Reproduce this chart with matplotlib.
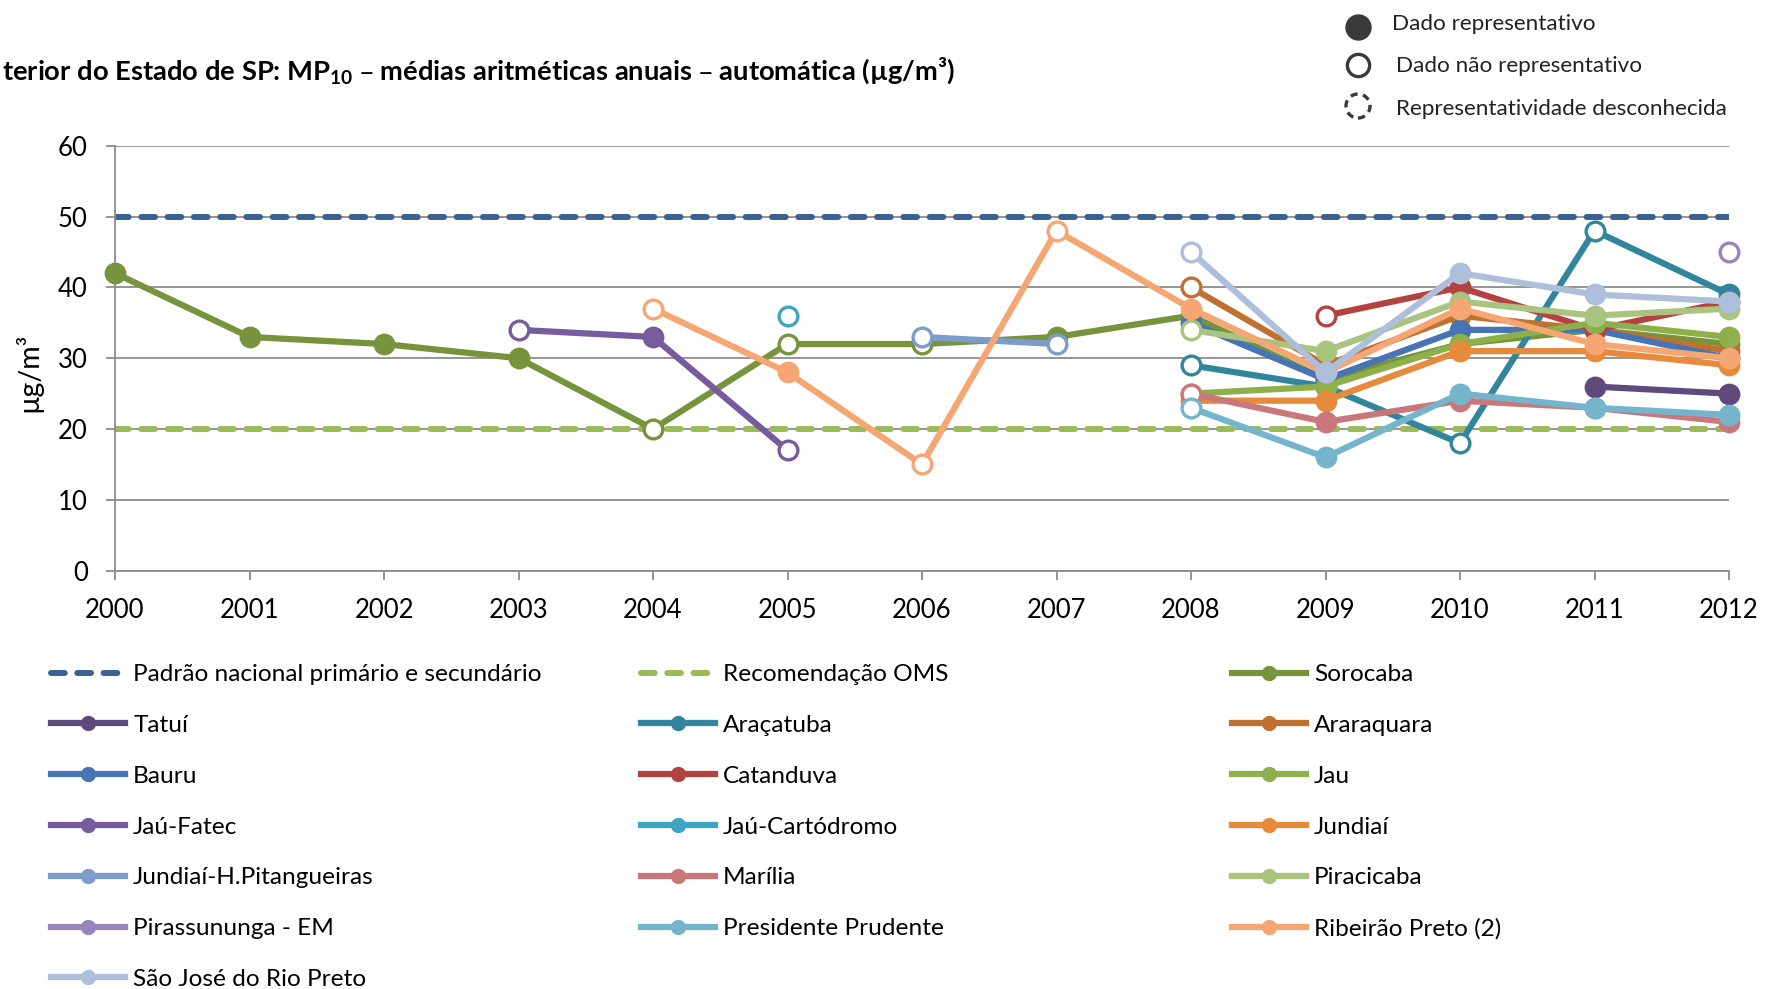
import numpy as np
import matplotlib
matplotlib.use("Agg")
import matplotlib.pyplot as plt
from matplotlib.lines import Line2D
from matplotlib.patches import Ellipse

plt.rcParams["font.family"] = ["Lato", "DejaVu Sans"]

nan = np.nan
years = list(range(2000, 2013))

# valores anuais (µg/m³), nan = sem dado
padrao = [50] * 13
oms = [20] * 13
sorocaba = [42, 33, 32, 30, 20, 32, 32, 33, 36, 27, 32, 34, 32]
tatui = [nan] * 11 + [26, 25]
aracatuba = [nan] * 8 + [29, 26, 18, 48, 39]
araraquara = [nan] * 8 + [40, 29, 36, 34, 31]
bauru = [nan] * 8 + [35, 27, 34, 34, 30]
catanduva = [nan] * 9 + [36, 40, 34, 38]
jau = [nan] * 8 + [25, 26, 32, 35, 33]
jau_fatec = [nan] * 3 + [34, 33, 17] + [nan] * 7
jau_cartodromo = [nan] * 5 + [36] + [nan] * 7
jundiai = [nan] * 8 + [24, 24, 31, 31, 29]
jundiai_hp = [nan] * 6 + [33, 32] + [nan] * 5
marilia = [nan] * 8 + [25, 21, 24, 23, 21]
piracicaba = [nan] * 8 + [34, 31, 38, 36, 37]
pirassununga = [nan] * 12 + [45]
pres_prudente = [nan] * 8 + [23, 16, 25, 23, 22]
ribeirao = [nan] * 4 + [37, 28, 15, 48, 37, 28, 37, 32, 30]
sao_jose = [nan] * 8 + [45, 28, 42, 39, 38]

# anos com dado não representativo (marcador vazado)
hollow = {
    "Sorocaba": [2004, 2005, 2006],
    "Araçatuba": [2008, 2010, 2011],
    "Araraquara": [2008],
    "Catanduva": [2009],
    "Jaú-Fatec": [2003, 2005],
    "Jaú-Cartódromo": [2005],
    "Jundiaí-H.Pitangueiras": [2006, 2007],
    "Marília": [2008],
    "Piracicaba": [2008],
    "Pirassununga - EM": [2012],
    "Presidente Prudente": [2008],
    "Ribeirão Preto (2)": [2004, 2006, 2007],
    "São José do Rio Preto": [2008],
}

series = [
    ("Sorocaba", sorocaba, "#77933C"),
    ("Tatuí", tatui, "#604A7B"),
    ("Araçatuba", aracatuba, "#31859C"),
    ("Araraquara", araraquara, "#C0712F"),
    ("Bauru", bauru, "#4674B5"),
    ("Catanduva", catanduva, "#B4433F"),
    ("Jau", jau, "#8DB04B"),
    ("Jaú-Fatec", jau_fatec, "#765C9E"),
    ("Jaú-Cartódromo", jau_cartodromo, "#3DA5C2"),
    ("Jundiaí", jundiai, "#E78A3C"),
    ("Jundiaí-H.Pitangueiras", jundiai_hp, "#7C9CCC"),
    ("Marília", marilia, "#C9777A"),
    ("Piracicaba", piracicaba, "#A9C47F"),
    ("Pirassununga - EM", pirassununga, "#9985BA"),
    ("Presidente Prudente", pres_prudente, "#74B5CC"),
    ("Ribeirão Preto (2)", ribeirao, "#F5A672"),
    ("São José do Rio Preto", sao_jose, "#AEBFDB"),
]

W, H = 1785, 989
fig = plt.figure(figsize=(W / 100, H / 100), dpi=100)
ax = fig.add_axes([115 / W, 1 - 570.7 / H, (1729 - 115) / W, (570.7 - 145.7) / H])

grid_c = "#8c8c8c"
ax.set_xlim(2000, 2012)
ax.set_ylim(0, 60)
ax.set_yticks(range(0, 61, 10))
ax.set_xticks(years)
ax.yaxis.grid(True, color=grid_c, lw=1.3)
ax.set_axisbelow(True)
for s in ["top", "right"]:
    ax.spines[s].set_visible(False)
for s in ["left", "bottom"]:
    ax.spines[s].set_color(grid_c)
    ax.spines[s].set_linewidth(1.3)
ax.tick_params(axis="both", direction="out", length=6.5, width=1.3, color=grid_c,
               labelsize=18.5, pad=13)

dash = (0, (2.3, 2.1))
ax.plot(years, padrao, color="#3A6194", lw=4.3, ls=dash, dash_capstyle="round", zorder=2)
ax.plot(years, oms, color="#9BBB59", lw=4.3, ls=dash, dash_capstyle="round", zorder=2)

yrs = np.array(years)
for i, (name, vals, color) in enumerate(series):
    y = np.array(vals, dtype=float)
    z = 3 + i
    ax.plot(yrs, y, color=color, lw=4.5, solid_capstyle="round", zorder=z, clip_on=False)
    ok = ~np.isnan(y)
    hol = np.isin(yrs, hollow.get(name, []))
    ax.plot(yrs[ok & ~hol], y[ok & ~hol], ls="none", marker="o", ms=13.5, mfc=color,
            mec=color, mew=2.2, zorder=z + 0.5, clip_on=False)
    ax.plot(yrs[ok & hol], y[ok & hol], ls="none", marker="o", ms=13.5, mfc="white",
            mec=color, mew=2.4, zorder=z + 0.5, clip_on=False)

# título e unidade
fig.text(2 / W, 1 - 70 / H,
         r"terior do Estado de SP: MP$_\mathregular{10}$ – médias aritméticas anuais – automática (µg/m³)",
         fontsize=19.7, weight="bold", va="center", ha="left")
fig.text(28 / W, 1 - 372 / H, "µg/m³", rotation=90, fontsize=20.5, va="center", ha="center")

# chave de representatividade
key_c = "#3a3a3a"
fig.add_artist(Line2D([1358 / W], [1 - 27 / H], marker="o", ms=18, mfc=key_c, mec=key_c,
                      transform=fig.transFigure))
fig.add_artist(Line2D([1358 / W], [1 - 65 / H], marker="o", ms=16, mfc="white", mec=key_c,
                      mew=2.4, transform=fig.transFigure))
fig.add_artist(Ellipse((1358 / W, 1 - 106 / H), 24 / W, 24 / H, transform=fig.transFigure,
                       fill=False, ec=key_c, lw=2.4, ls=(0, (2.2, 1.6))))
fig.text(1392 / W, 1 - 24 / H, "Dado representativo", fontsize=16.2, va="center", color="#222222")
fig.text(1396 / W, 1 - 66 / H, "Dado não representativo", fontsize=16.2, va="center", color="#222222")
fig.text(1396 / W, 1 - 109 / H, "Representatividade desconhecida", fontsize=16.2, va="center",
         color="#222222")

# legenda em três colunas
handles = [
    Line2D([], [], color="#3A6194", lw=4.3, ls=dash, dash_capstyle="round"),
    Line2D([], [], color="#9BBB59", lw=4.3, ls=dash, dash_capstyle="round"),
]
labels = ["Padrão nacional primário e secundário", "Recomendação OMS"]
for name, vals, color in series:
    handles.append(Line2D([], [], color=color, lw=4.5, marker="o", ms=10, mfc=color, mec=color))
    labels.append(name)

col_x = [51, 641, 1232]
for c in range(3):
    fig.legend(handles[c::3], labels[c::3], loc="upper left",
               bbox_to_anchor=(col_x[c] / W, 1 - 664 / H), frameon=False, fontsize=17.6,
               handlelength=3.03, handletextpad=0.33, labelspacing=1.215, borderpad=0,
               borderaxespad=0)

fig.savefig("out.png", dpi=100)
